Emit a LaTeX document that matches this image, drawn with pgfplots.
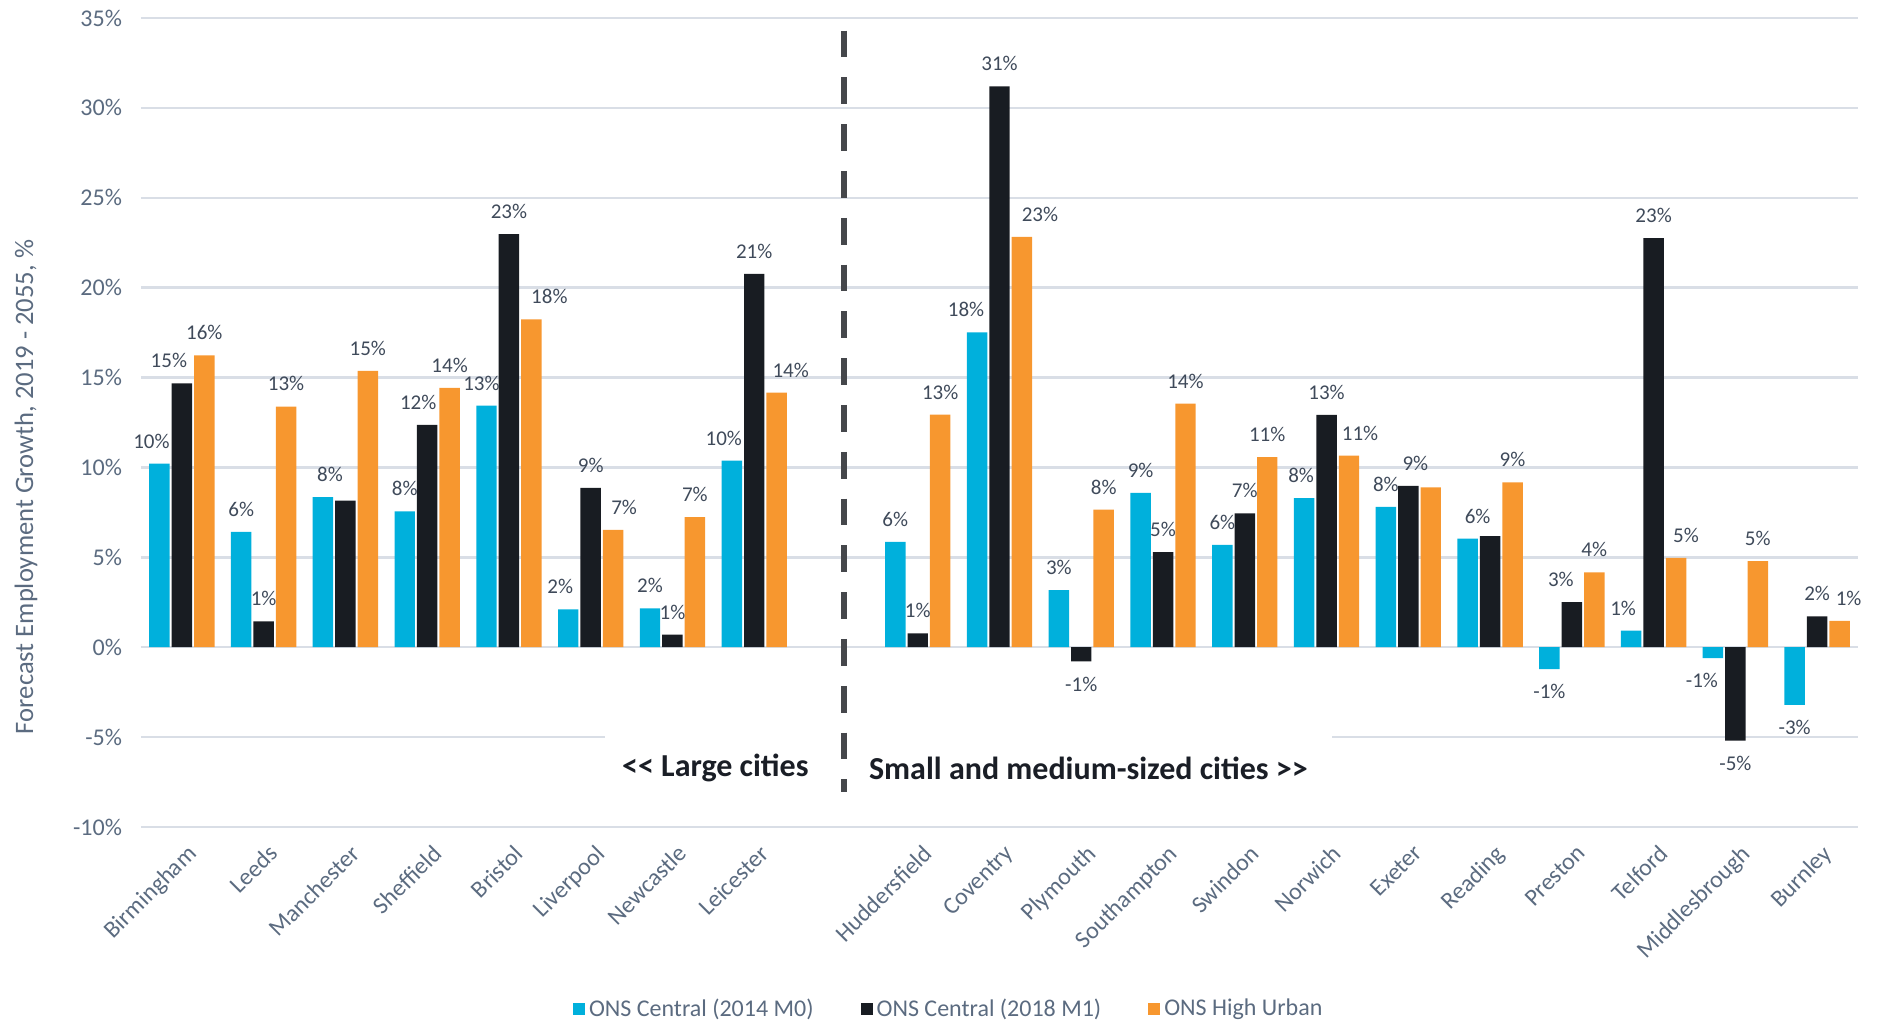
\documentclass[border=0pt]{standalone}
\usepackage{pgfplots}
\pgfplotsset{compat=1.18}
\usepackage{pgfplotstable}
\usepackage{fontspec}
\setmainfont{Carlito}

\definecolor{cCyan}{HTML}{00B0DC}
\definecolor{cBlack}{HTML}{181C22}
\definecolor{cOrange}{HTML}{F7972F}
\definecolor{tickgray}{HTML}{5B6B80}
\definecolor{labgray}{HTML}{3F4A5A}
\definecolor{gridc}{HTML}{D9DEE6}
\definecolor{dashc}{HTML}{45474B}
\definecolor{headc}{HTML}{1A1E26}

% growth 2019-2055 in percent; d* = label shift (pt), s* = label shown (1) or not (0)
\pgfplotstableread{
x   c      k      o      dc    dk    do    sc sk so
0   10.21  14.68  16.24  -4    -6.5  0     1  1  1
1   6.41   1.44   13.39  0     0     0     1  1  1
2   8.35   8.15   15.37  3.5   0     0     1  0  1
3   7.55   12.37  14.43  0     -4.5  0     1  1  1
4   13.44  22.98  18.23  -2.5  0     9     1  1  1
5   2.11   8.87   6.53   -4    0     5.5   1  1  1
6   2.16   0.70   7.23   0     0     0     1  1  1
7   10.38  20.77  14.16  -4    0     7     1  1  1
9   5.86   0.77   12.94  0     0     0     1  1  1
10  17.51  31.20  22.83  -5.5  0     9     1  1  1
11  3.18   -0.79  7.65   0     0     0     1  1  1
12  8.59   5.29   13.55  0     0     0     1  1  1
13  5.69   7.45   10.58  0     0     0     1  1  1
14  8.30   12.92  10.66  -1.5  0     5.5   1  1  1
15  7.80   8.97   8.89   0     3.5   0     1  1  0
16  6.04   6.18   9.17   5     0     0     1  0  1
17  -1.22  2.51   4.17   0     -5.5  0     1  1  1
18  0.92   22.75  4.97   -4    0     5     1  1  1
19  -0.60  -5.19  4.79   -5.5  0     0     1  1  1
20  -3.20  1.71   1.47   0     0     4.5   1  1  1
}\growth

\pgfplotsset{/pgf/number format/assume math mode=true}

\begin{document}
\begin{tikzpicture}
\useasboundingbox (-70.5pt,-97.5pt) rectangle (868pt,413.5pt);
\begin{axis}[
  at={(0,0)}, anchor=south west,
  scale only axis, width=858.5pt, height=404.5pt,
  xmin=-0.5, xmax=20.5, ymin=-10, ymax=35,
  axis line style={draw=none},
  major tick length=0pt,
  ytick={-10,-5,...,35},
  yticklabel={\pgfmathprintnumber{\tick}\%},
  yticklabel style={font=\fontsize{12}{14}\selectfont, text=tickgray, xshift=-6pt},
  ymajorgrids,
  grid style={gridc, line width=1.2pt},
  xtick={0,1,2,3,4,5,6,7,9,10,11,12,13,14,15,16,17,18,19,20},
  xticklabels={Birmingham,Leeds,Manchester,Sheffield,Bristol,Liverpool,Newcastle,Leicester,
    Huddersfield,Coventry,Plymouth,Southampton,Swindon,Norwich,Exeter,Reading,Preston,Telford,
    Middlesbrough,Burnley},
  xticklabel style={font=\fontsize{12}{14}\selectfont, text=tickgray, yshift=-8pt, xshift=2pt,
    rotate=45, anchor=north east, inner sep=0pt},
  ybar=1pt, bar width=0.25,
  nodes near coords={\pgfmathprintnumber[fixed,precision=0]{\pgfplotspointmeta}\%},
  every node near coord/.append style={font=\fontsize{10.5}{12}\selectfont, text=labgray,
    inner ysep=7.5pt, xshift=\dx pt, opacity=\sh},
  legend columns=3,
  legend style={at={(0.471,-0.225)}, anchor=center, draw=none, fill=none,
    font=\fontsize{12}{14}\selectfont, text=tickgray,
    /tikz/every even column/.append style={column sep=21.5pt}},
  legend image code/.code={\fill[#1] (0pt,-3pt) rectangle (6pt,3pt);},
]
\addplot[fill=cCyan, draw=none,
  visualization depends on={\thisrow{dc} \as \dx},
  visualization depends on={\thisrow{sc} \as \sh}] table[x=x, y=c] {\growth};
\addplot[fill=cBlack, draw=none,
  visualization depends on={\thisrow{dk} \as \dx},
  visualization depends on={\thisrow{sk} \as \sh}] table[x=x, y=k] {\growth};
\addplot[fill=cOrange, draw=none,
  visualization depends on={\thisrow{do} \as \dx},
  visualization depends on={\thisrow{so} \as \sh}] table[x=x, y=o] {\growth};
\legend{ONS Central (2014 M0), ONS Central (2018 M1), ONS High Urban}

% divider between the two groups of cities
\fill[white] (axis cs:5.17,-3.9) rectangle (axis cs:14.07,-7.6);
\draw[dashc, line width=3.2pt, dash pattern=on 13.4pt off 10pt]
  (axis cs:8.1,34.3) -- (axis cs:8.1,-8.05);
\node[anchor=east, font=\fontsize{16}{18}\bfseries, text=headc, inner sep=0pt]
  at (axis cs:7.67,-6.74) {<{}< Large cities};
\node[anchor=west, font=\fontsize{16}{18}\bfseries, text=headc, inner sep=0pt]
  at (axis cs:8.40,-6.74) {Small and medium-sized cities >{}>};
\end{axis}
\node[rotate=90, font=\fontsize{13.3}{15}\selectfont, text=tickgray]
  at (-57.5pt,170pt) {Forecast Employment Growth, 2019 - 2055, \%};
\end{tikzpicture}
\end{document}
